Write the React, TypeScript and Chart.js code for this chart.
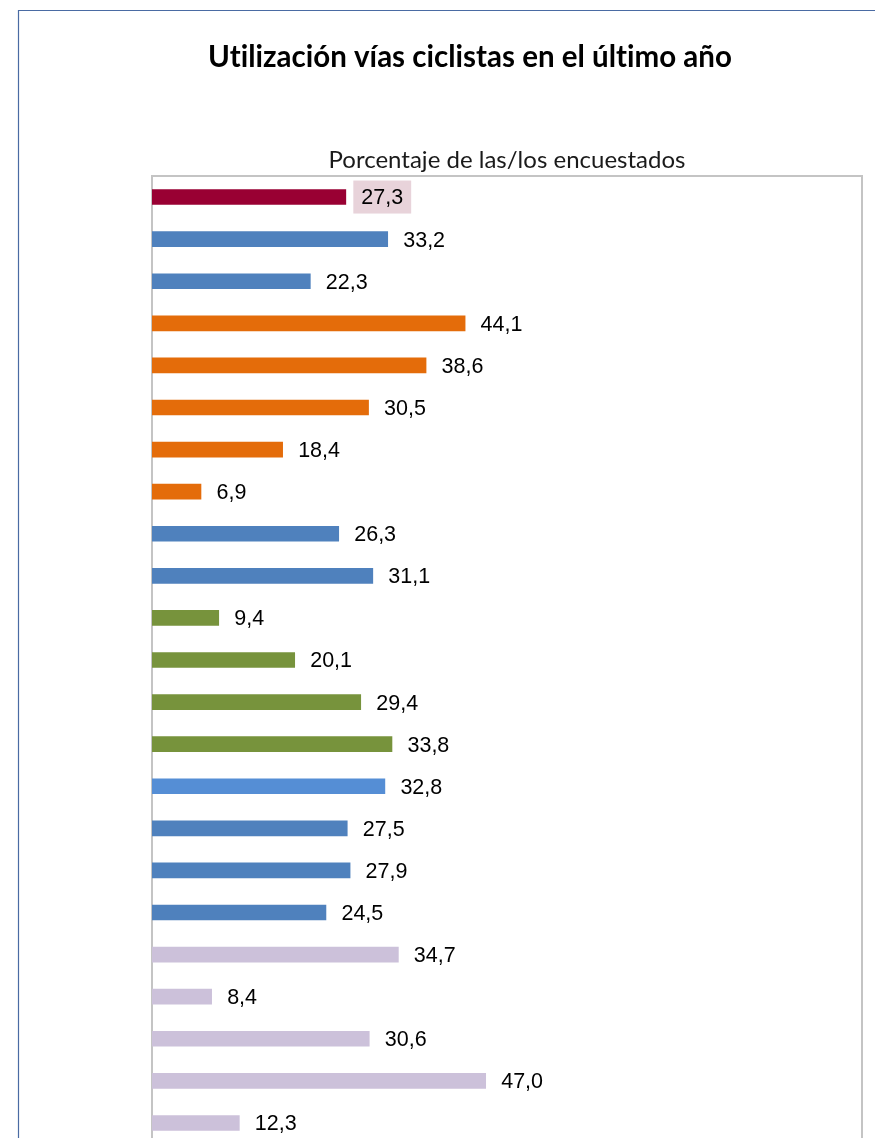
import React, { useEffect, useRef } from "react";
import { Chart, registerables } from "chart.js";

Chart.register(...registerables);

const TITLE = "Utilización vías ciclistas en el último año";
const SUBTITLE = "Porcentaje de las/los encuestados";

const categories = [
  "Total",
  "Hombres",
  "Mujeres",
  "16-24 años",
  "25-34 años",
  "35-44 años",
  "45-64 años",
  "65 y más años",
  "Nacidos en España",
  "Nacidos en el extranjero",
  "Estudios primarios",
  "Estudios secundarios",
  "Formación profesional",
  "Estudios universitarios",
  "Trabaja",
  "Parado",
  "Estudiante",
  "Jubilado / otros",
  "Grupo 1",
  "Grupo 2",
  "Grupo 3",
  "Grupo 4",
  "Grupo 5",
];

const values = [
  27.3, 33.2, 22.3, 44.1, 38.6, 30.5, 18.4, 6.9, 26.3, 31.1, 9.4, 20.1, 29.4,
  33.8, 32.8, 27.5, 27.9, 24.5, 34.7, 8.4, 30.6, 47.0, 12.3,
];

const groups = [
  "total", "blue", "blue",
  "orange", "orange", "orange", "orange", "orange",
  "blue", "blue",
  "green", "green", "green", "green",
  "lightblue", "blue", "blue", "blue",
  "lavender", "lavender", "lavender", "lavender", "lavender",
];

const palette: Record<string, string> = {
  total: "#990033",
  blue: "#4f81bd",
  orange: "#e46c0a",
  green: "#77933c",
  lightblue: "#558ed5",
  lavender: "#ccc1da",
};

const fmt = (v: number) => v.toFixed(1).replace(".", ",");

export default function App() {
  const ref = useRef<HTMLCanvasElement | null>(null);

  useEffect(() => {
    document.body.style.margin = "0";
    const canvas = ref.current!;
    const decor = {
      id: "decor",
      beforeDraw(chart: any) {
        const ctx = chart.ctx;
        ctx.save();
        ctx.fillStyle = "#ffffff";
        ctx.fillRect(0, 0, chart.width, chart.height);
        // outer frame
        ctx.strokeStyle = "#4a6ba3";
        ctx.lineWidth = 1.2;
        ctx.beginPath();
        ctx.moveTo(18.5, chart.height + 10);
        ctx.lineTo(18.5, 10.5);
        ctx.lineTo(chart.width + 10, 10.5);
        ctx.stroke();
        // title
        ctx.fillStyle = "#000000";
        ctx.font = "bold 29.5px Lato";
        ctx.textAlign = "center";
        ctx.textBaseline = "alphabetic";
        if ("letterSpacing" in ctx) (ctx as any).letterSpacing = "0.01px";
        ctx.fillText(TITLE, 470, 67);
        // subtitle
        const a = chart.chartArea;
        ctx.font = "24px Lato";
        ctx.fillStyle = "#1a1a1a";
        ctx.fillText(SUBTITLE, (a.left + a.right) / 2, 168);
        if ("letterSpacing" in ctx) (ctx as any).letterSpacing = "0px";
        // plot border
        ctx.strokeStyle = "#c4c4c4";
        ctx.lineWidth = 2;
        ctx.strokeRect(a.left, a.top, a.right - a.left, a.bottom - a.top);
        ctx.restore();
      },
      afterDatasetsDraw(chart: any) {
        const ctx = chart.ctx;
        const meta = chart.getDatasetMeta(0);
        ctx.save();
        ctx.font = "21.5px 'Liberation Sans', Arial, sans-serif";
        ctx.textAlign = "left";
        ctx.textBaseline = "middle";
        meta.data.forEach((bar: any, i: number) => {
          const txt = fmt(values[i]);
          const x = bar.x + 15.5;
          const y = bar.y;
          if (i === 0) {
            const w = ctx.measureText(txt).width;
            ctx.fillStyle = "#e8d3da";
            ctx.fillRect(x - 8, y - 16.5, w + 16, 33);
          }
          ctx.fillStyle = "#000000";
          ctx.fillText(txt, x, y + 1.5);
        });
        ctx.restore();
      },
    };

    const chart = new Chart(canvas, {
      type: "bar",
      data: {
        labels: categories,
        datasets: [
          {
            data: values,
            backgroundColor: groups.map((g) => palette[g]),
            borderWidth: 0,
            barThickness: 15,
          },
        ],
      },
      options: {
        indexAxis: "y",
        animation: false,
        responsive: false,
        devicePixelRatio: 1,
        layout: { padding: { left: 152, right: 13, top: 176, bottom: 16 } },
        plugins: {
          legend: { display: false },
          title: { display: false },
          tooltip: { enabled: false },
        },
        scales: {
          x: { display: false, min: 0, max: 100 },
          y: { display: false },
        },
      },
      plugins: [decor],
    });
    return () => chart.destroy();
  }, []);

  return (
    <div style={{ width: 875, height: 1138, overflow: "hidden" }}>
      <canvas ref={ref} width={875} height={1160} style={{ display: "block" }} />
    </div>
  );
}
